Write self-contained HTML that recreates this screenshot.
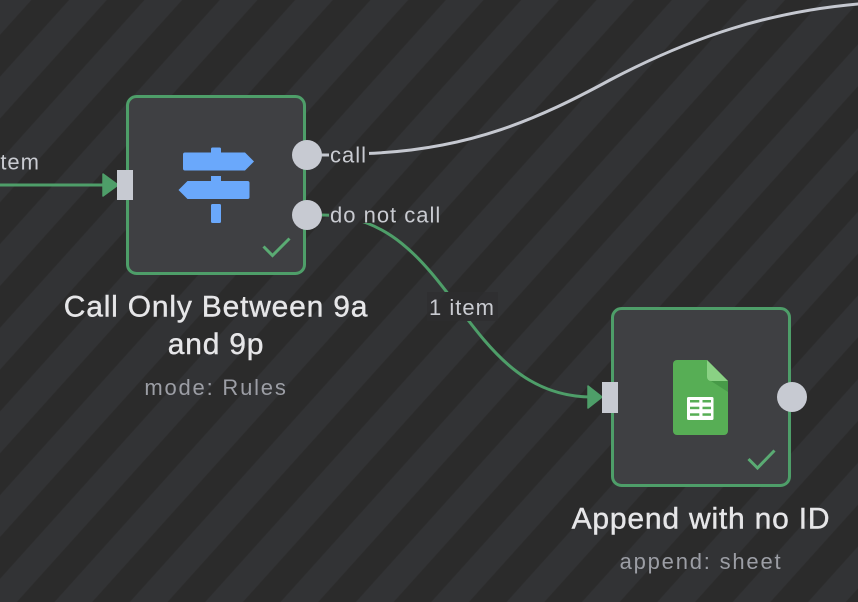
<!DOCTYPE html>
<html>
<head>
<meta charset="utf-8">
<style>
  html,body{margin:0;padding:0;background:#2b2b2b;}
  svg{display:block;}
  text{font-family:"Liberation Sans","DejaVu Sans",sans-serif;}
</style>
</head>
<body>
<svg width="858" height="602" viewBox="0 0 858 602" xmlns="http://www.w3.org/2000/svg">
  <defs>
    <pattern id="stripes" patternUnits="userSpaceOnUse" width="56" height="56" patternTransform="rotate(42)">
      <rect x="0" y="0" width="56" height="56" fill="#323335"/>
      <rect x="23.3" y="0" width="28" height="56" fill="#2b2b2b"/>
    </pattern>
  </defs>

  <!-- background -->
  <rect x="0" y="0" width="858" height="602" fill="url(#stripes)"/>

  <!-- incoming edge on left -->
  <line x1="0" y1="185" x2="105" y2="185" stroke="#4e9e69" stroke-width="3"/>
  <polygon points="103,174 118,185 103,196" fill="#4e9e69" stroke="#4e9e69" stroke-width="1.5" stroke-linejoin="round"/>
  <text x="40" y="169.3" font-size="22" fill="#c9cbd1" text-anchor="end" letter-spacing="1">1 item</text>

  <!-- call edge (gray) -->
  <line x1="320" y1="155" x2="331" y2="155" stroke="#c5c8d0" stroke-width="3"/>
  <path d="M366,153.5 C470,150 540,118 610,80 C690,38 770,10 870,3" fill="none" stroke="#c5c8d0" stroke-width="3"/>

  <!-- do not call edge (green) -->
  <path d="M322,215 C455,215 460,397 592,397" fill="none" stroke="#4e9e69" stroke-width="3"/>
  <polygon points="588,386 602,397 588,408" fill="#4e9e69" stroke="#4e9e69" stroke-width="1.5" stroke-linejoin="round"/>

  <!-- label backgrounds -->
  <rect x="329" y="142" width="40" height="24" fill="url(#stripes)"/>
  <rect x="329" y="202" width="115" height="21" fill="url(#stripes)"/>
  <rect x="427" y="292" width="71" height="29" fill="url(#stripes)"/>
  <rect x="427" y="292" width="71" height="29" fill="#2d2d2f" opacity="0.6"/>

  <!-- edge labels -->
  <text x="330" y="162.3" font-size="22" fill="#c9cbd1" letter-spacing="1">call</text>
  <text x="330" y="222.7" font-size="22" fill="#c9cbd1" letter-spacing="1">do not call</text>
  <text x="462" y="315" font-size="22" fill="#c9cbd1" text-anchor="middle" letter-spacing="1">1 item</text>

  <!-- Node 1 -->
  <rect x="127.5" y="96.5" width="177" height="177" rx="9" ry="9" fill="#3f4043" stroke="#4e9e69" stroke-width="3"/>
  <!-- signpost icon -->
  <g fill="#6aa8fb">
    <rect x="211" y="147.5" width="10" height="7" rx="1.5"/>
    <path d="M185,152.5 H245 L254,161.5 L245,170.5 H185 A2,2 0 0 1 183,168.5 V154.5 A2,2 0 0 1 185,152.5 Z"/>
    <rect x="211" y="176" width="10" height="6"/>
    <path d="M187.5,181 H247.5 A2,2 0 0 1 249.5,183 V197 A2,2 0 0 1 247.5,199 H187.5 L178.5,190 Z"/>
    <rect x="211" y="204" width="10" height="19" rx="1.5"/>
  </g>
  <!-- check -->
  <polyline points="263.5,246.5 272.5,255.5 289.5,238.5" fill="none" stroke="#5aab73" stroke-width="3"/>
  <!-- handles -->
  <rect x="117" y="170" width="16" height="30" fill="#c7cad2"/>
  <circle cx="307" cy="155" r="15" fill="#c7cad2"/>
  <circle cx="307" cy="215" r="15" fill="#c7cad2"/>

  <!-- Node 1 labels -->
  <text x="216" y="316.7" font-size="30" fill="#e6e6e8" stroke="#e6e6e8" stroke-width="0.4" text-anchor="middle" letter-spacing="0.8">Call Only Between 9a</text>
  <text x="216" y="354" font-size="30" fill="#e6e6e8" stroke="#e6e6e8" stroke-width="0.4" text-anchor="middle" letter-spacing="0.8">and 9p</text>
  <text x="216" y="395" font-size="22" fill="#9c9ea5" text-anchor="middle" letter-spacing="1.8">mode: Rules</text>

  <!-- Node 2 -->
  <rect x="612.5" y="308.5" width="177" height="177" rx="9" ry="9" fill="#3f4043" stroke="#4e9e69" stroke-width="3"/>
  <!-- sheets icon -->
  <path d="M677,360 H707 L728,381 V431 A4,4 0 0 1 724,435 H677 A4,4 0 0 1 673,431 V364 A4,4 0 0 1 677,360 Z" fill="#57ae55"/>
  <polygon points="711,381 728,381 728,392" fill="#479a48"/>
  <path d="M707,360 V377 A4,4 0 0 0 711,381 H728 Z" fill="#8ad184"/>
  <rect x="687" y="397" width="26.5" height="23" rx="1.5" fill="#ffffff"/>
  <g fill="#57ae55">
    <rect x="690" y="400" width="9.3" height="2.5"/>
    <rect x="702.5" y="400" width="8.5" height="2.5"/>
    <rect x="690" y="406.7" width="9.3" height="2.5"/>
    <rect x="702.5" y="406.7" width="8.5" height="2.5"/>
    <rect x="690" y="413.3" width="9.3" height="2.5"/>
    <rect x="702.5" y="413.3" width="8.5" height="2.5"/>
  </g>
  <!-- check -->
  <polyline points="748.5,459 757.5,468 774.5,450.5" fill="none" stroke="#5aab73" stroke-width="3"/>
  <!-- handles -->
  <rect x="602" y="382" width="16" height="31" fill="#c7cad2"/>
  <circle cx="792" cy="397" r="15" fill="#c7cad2"/>

  <!-- Node 2 labels -->
  <text x="701" y="528.3" font-size="30" fill="#e6e6e8" stroke="#e6e6e8" stroke-width="0.4" text-anchor="middle" letter-spacing="0.8">Append with no ID</text>
  <text x="701" y="569" font-size="22" fill="#9c9ea5" text-anchor="middle" letter-spacing="1.8">append: sheet</text>
</svg>
</body>
</html>
